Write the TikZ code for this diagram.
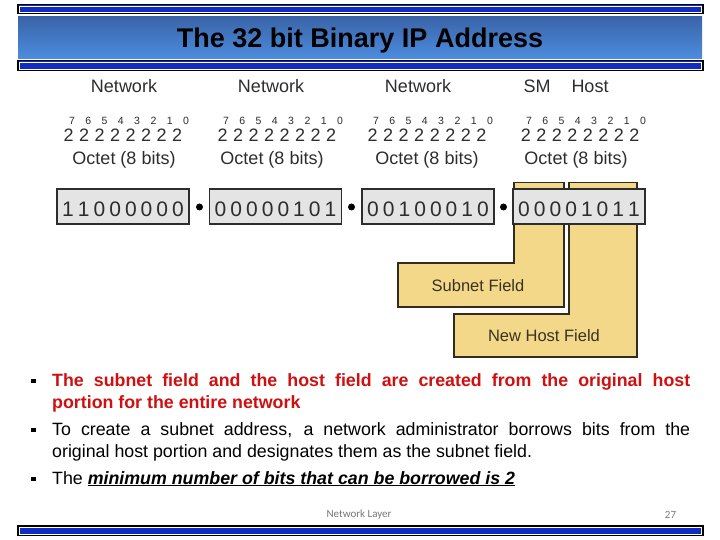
\documentclass[tikz,border=0pt]{standalone}
\usepackage{fontspec}
\setmainfont{Liberation Sans}
\newfontfamily\footfont{Carlito}
\definecolor{barblue}{RGB}{16,44,196}
\definecolor{titletop}{RGB}{58,100,168}
\definecolor{titlebot}{RGB}{76,140,222}
\definecolor{fieldyellow}{RGB}{243,216,138}
\definecolor{fieldline}{RGB}{50,44,30}
\definecolor{labelbrown}{RGB}{58,50,34}
\definecolor{boxgray}{RGB}{228,228,228}
\definecolor{inkgray}{RGB}{45,45,45}
\definecolor{slidered}{RGB}{208,16,16}
\definecolor{footgray}{RGB}{120,120,120}
\newcommand{\myfs}[1]{\fontsize{#1}{#1}\selectfont}
\tikzset{
  bar/.style={draw=black, line width=1.2pt, fill=barblue},
  barinner/.style={draw=white, line width=0.5pt},
  octbox/.style={draw=inkgray, line width=1.2pt, fill=boxgray, minimum width=132pt, minimum height=35pt, inner sep=0pt},
  digit/.style={font=\myfs{21}, text=inkgray, anchor=base, inner sep=0pt},
  two/.style={font=\myfs{18}, text=inkgray, anchor=base, inner sep=0pt},
  expo/.style={font=\myfs{10.5}, text=inkgray, anchor=base, inner sep=0pt},
  lbl/.style={font=\myfs{18}, text=inkgray, inner sep=0pt, anchor=base},
  dotsep/.style={circle, fill=black, inner sep=0pt, minimum size=7pt},
  field/.style={draw=fieldline, line width=1.3pt, fill=fieldyellow, line join=miter},
  fieldtxt/.style={font=\myfs{16.5}, text=labelbrown, inner sep=0pt, anchor=base},
  bulletsq/.style={fill=black, inner sep=0pt, minimum size=4.5pt},
  bodyline/.style={anchor=base west, inner sep=0pt, font=\myfs{17.8}},
}
\begin{document}
\begin{tikzpicture}[x=1pt,y=-1pt]
\useasboundingbox (0,0) rectangle (720,540);
\fill[white] (0,0) rectangle (720,540);
% header
\draw[bar] (18,4.7) rectangle (703,13.7);
\draw[barinner] (19.5,6.2) rectangle (701.5,12.2);
\shade[top color=titletop, bottom color=titlebot] (18,16.7) rectangle (702,58.7);
\draw[bar] (18,60.5) rectangle (703,70.5);
\draw[barinner] (19.5,62) rectangle (701.5,69);
\node[font=\bfseries\myfs{27}, anchor=base, inner sep=0pt] (title) at (360,47.5) {The 32 bit Binary IP Address};
% column labels
\node[lbl] (n1) at (124,93) {Network};
\node[lbl] (n2) at (271,93) {Network};
\node[lbl] (n3) at (418,93) {Network};
\node[lbl] (sm) at (537,93) {SM};
\node[lbl] (host) at (590,93) {Host};
% powers of two
\foreach \c/\g in {123/p, 277/q, 427/r, 580/s}{
  \foreach \i in {0,...,7}{
    \pgfmathtruncatemacro{\e}{7-\i}
    \node[two] (\g two\i) at ({\c+(\i-3.5)*15.5},142) {2};
    \node[expo] (\g exp\i) at ({\c+(\i-3.5)*16.3+6},124.5) {\e};
  }
}
% octet labels
\node[lbl] (oc1) at (124,165) {Octet (8 bits)};
\node[lbl] (oc2) at (272,165) {Octet (8 bits)};
\node[lbl] (oc3) at (427,165) {Octet (8 bits)};
\node[lbl] (oc4) at (576,165) {Octet (8 bits)};
% yellow fields
\draw[field] (514,182.7) -- (564,182.7) -- (564,307) -- (398,307) -- (398,263) -- (514,263) -- cycle;
\draw[field] (569,182.7) -- (637,182.7) -- (637,357) -- (454,357) -- (454,314) -- (569,314) -- cycle;
\node[fieldtxt] (subf) at (478,291) {Subnet Field};
\node[fieldtxt] (hostf) at (544,341) {New Host Field};
% octet boxes
\node[octbox] (o1) at (123,206.5) {};
\node[octbox] (o2) at (275.5,206.5) {};
\node[octbox] (o3) at (428,206.5) {};
\node[octbox] (o4) at (579,206.5) {};
\node[dotsep] (d1) at (199.5,207) {};
\node[dotsep] (d2) at (351.5,207) {};
\node[dotsep] (d3) at (503.5,207) {};
\foreach \d [count=\i from 0] in {1,1,0,0,0,0,0,0}
  \node[digit] (a\i) at ({123+(\i-3.5)*15.7},216.5) {\d};
\foreach \d [count=\i from 0] in {0,0,0,0,0,1,0,1}
  \node[digit] (b\i) at ({275.5+(\i-3.5)*15.7},216.5) {\d};
\foreach \d [count=\i from 0] in {0,0,1,0,0,0,1,0}
  \node[digit] (c\i) at ({428+(\i-3.5)*15.7},216.5) {\d};
\foreach \d [count=\i from 0] in {0,0,0,0,1,0,1,1}
  \node[digit] (e\i) at ({579+(\i-3.5)*15.7},216.5) {\d};
% bullets
\node[bulletsq] (bu1) at (33.5,381) {};
\node[bulletsq] (bu2) at (33.5,430) {};
\node[bulletsq] (bu3) at (33.5,479) {};
\node[bodyline, text=slidered, font=\bfseries\myfs{17.8}] (l1) at (52,386.5) {\makebox[638pt][s]{The subnet field and the host field are created from the original host}};
\node[bodyline, text=slidered, font=\bfseries\myfs{17.8}] (l2) at (52,408) {portion for the entire network};
\node[bodyline] (l3) at (52,435.5) {\makebox[638pt][s]{To create a subnet address, a network administrator borrows bits from the}};
\node[bodyline] (l4) at (52,457) {original host portion and designates them as the subnet field.};
\node[bodyline] (l5) at (52,484) {The \textbf{\textit{\underline{minimum number of bits that can be borrowed is 2}}}};
% footer
\node[font=\footfont\myfs{11}, text=footgray, inner sep=0pt] (foot) at (359,515) {Network Layer};
\node[font=\footfont\myfs{11}, text=footgray, inner sep=0pt] (page) at (670.5,515) {27};
\draw[bar] (18,526) rectangle (703,535.7);
\draw[barinner] (19.5,527.5) rectangle (701.5,534.2);
\end{tikzpicture}
\end{document}
